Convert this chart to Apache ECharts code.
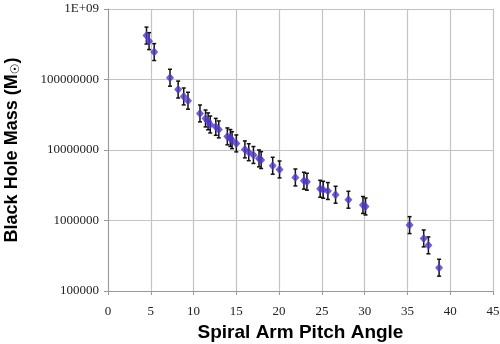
<!DOCTYPE html>
<html>
<head>
<meta charset="utf-8">
<script src="https://cdn.jsdelivr.net/npm/echarts@6/dist/echarts.min.js"></script>
<style>
  html, body { margin: 0; padding: 0; background: #fff; }
  #chart { width: 500px; height: 344px; }
</style>
</head>
<body>
<div id="chart"></div>
<script>
// pitch angle (deg)
const pitchAngle = [
  4.5, 4.8, 5.4, 7.25, 8.2, 8.85, 9.35, 10.75, 11.4, 11.7, 11.95, 12.6, 12.95,
  13.95, 14.3, 14.5, 15.0, 16.0, 16.45, 17.0, 17.65, 17.9, 19.25, 20.05,
  21.9, 22.9, 23.25, 24.8, 25.15, 25.7, 26.6, 28.1, 29.8, 30.1,
  35.25, 36.9, 37.45, 38.7
];
// black hole mass (solar masses)
const bhMass = [
  4.2e8, 3.5e8, 2.45e8, 1.06e8, 7.2e7, 5.75e7, 5.0e7, 3.3e7, 2.8e7, 2.55e7, 2.3e7, 2.13e7, 1.96e7,
  1.56e7, 1.48e7, 1.38e7, 1.24e7, 1.02e7, 9.3e6, 8.5e6, 7.6e6, 7.2e6, 5.98e6, 5.3e6,
  4.08e6, 3.67e6, 3.55e6, 2.82e6, 2.73e6, 2.62e6, 2.32e6, 1.97e6, 1.66e6, 1.58e6,
  8.6e5, 5.57e5, 4.44e5, 2.14e5
];
// half-length of the error bars, in dex
const errDex = 0.12;

const yTickLabels = ['100000', '1000000', '10000000', '100000000', '1E+09'];

const points = pitchAngle.map((x, i) => [x, bhMass[i]]);
const bars = pitchAngle.map((x, i) => [
  x,
  bhMass[i] / Math.pow(10, errDex),
  bhMass[i] * Math.pow(10, errDex)
]);

const serif = '"Liberation Serif", "DejaVu Serif", serif';

const chart = echarts.init(document.getElementById('chart'));

chart.setOption({
  animation: false,
  grid: {
    left: 108, right: 7, top: 9, bottom: 53,
    containLabel: false,
    outerBoundsMode: 'none'
  },
  xAxis: {
    type: 'value',
    min: 0,
    max: 45,
    interval: 5,
    name: 'Spiral Arm Pitch Angle',
    nameLocation: 'middle',
    nameGap: 29,
    nameTextStyle: {
      fontFamily: 'Liberation Sans',
      fontWeight: 'bold',
      fontSize: 19,
      color: '#000'
    },
    axisLine: { lineStyle: { color: '#999', width: 1 } },
    axisTick: { show: true, length: 4, lineStyle: { color: '#999' } },
    axisLabel: {
      fontFamily: serif,
      fontSize: 13,
      color: '#222',
      margin: 14
    },
    splitLine: { show: true, lineStyle: { color: '#c4c4c4', width: 1.2 } }
  },
  yAxis: {
    type: 'log',
    logBase: 10,
    min: 1e5,
    max: 1e9,
    name: 'Black Hole Mass (M{sub|☉})',
    nameLocation: 'middle',
    nameGap: 86,
    nameRotate: 90,
    nameTextStyle: {
      fontFamily: 'Liberation Sans',
      fontWeight: 'bold',
      fontSize: 18,
      color: '#000',
      rich: {
        sub: {
          fontFamily: 'DejaVu Sans',
          fontSize: 12,
          fontWeight: 'bold',
          color: '#000',
          verticalAlign: 'bottom',
          padding: [7, 0, 0, 0]
        }
      }
    },
    axisLine: { show: true, lineStyle: { color: '#999', width: 1 } },
    axisTick: { show: true, length: 4, lineStyle: { color: '#999' } },
    axisLabel: {
      fontFamily: serif,
      fontSize: 13,
      color: '#222',
      margin: 9,
      formatter: v => {
        const k = Math.round(Math.log10(v)) - 5;
        return yTickLabels[k] || '';
      }
    },
    splitLine: { show: true, lineStyle: { color: '#c4c4c4', width: 1.2 } }
  },
  series: [
    {
      type: 'custom',
      data: bars,
      encode: { x: 0, y: [1, 2] },
      renderItem: (params, api) => {
        const x = api.value(0);
        const lo = api.coord([x, api.value(1)]);
        const hi = api.coord([x, api.value(2)]);
        const cap = 2;
        const style = { stroke: '#111', lineWidth: 1.5 };
        return {
          type: 'group',
          children: [
            { type: 'line', shape: { x1: lo[0], y1: lo[1], x2: hi[0], y2: hi[1] }, style },
            { type: 'line', shape: { x1: lo[0] - cap, y1: lo[1], x2: lo[0] + cap, y2: lo[1] }, style },
            { type: 'line', shape: { x1: hi[0] - cap, y1: hi[1], x2: hi[0] + cap, y2: hi[1] }, style }
          ]
        };
      },
      z: 2
    },
    {
      type: 'scatter',
      data: points,
      symbol: 'diamond',
      symbolSize: [8, 9],
      itemStyle: { color: '#5136c8' },
      z: 3
    }
  ]
});
</script>
</body>
</html>
